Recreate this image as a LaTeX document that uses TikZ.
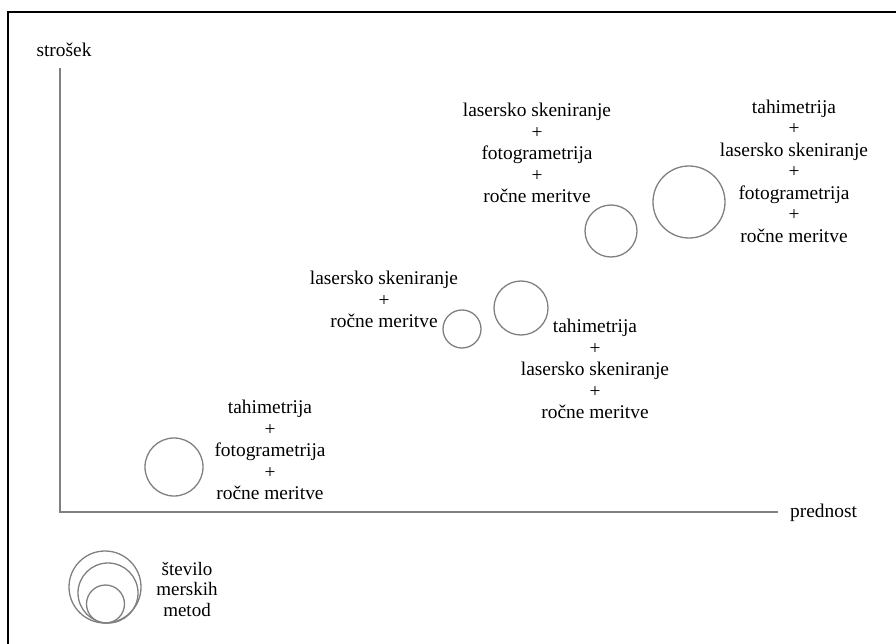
\documentclass[tikz,border=0pt]{standalone}
\usepackage{fontspec}
\setmainfont{Liberation Serif}
\begin{document}
\begin{tikzpicture}[x=1pt,y=-1pt,
  lbl/.style={inner sep=0pt,align=center,font=\fontsize{19.4}{21.5}\selectfont},
  bub/.style={circle,draw=black!50,line width=1.3pt,inner sep=0pt,minimum size=#1},
  axis/.style={draw=black!50,line width=1.8pt}]
\useasboundingbox (0,0) rectangle (896,644);
% frame
\draw[line width=2pt] (8,650) -- (8,12) -- (900,12);
% axes
\coordinate (ytop) at (60,68);
\coordinate (o) at (60,512);
\coordinate (xend) at (778,512);
\draw[axis] (ytop) -- (o) -- (xend);
\node[lbl,anchor=base] (ylab) at (64,57) {strošek};
\node[lbl,anchor=base west] (xlab) at (790,517) {prednost};
% bubbles
\node[bub=58pt] (c1) at (174,467) {};
\node[bub=38pt] (c2) at (462,329) {};
\node[bub=54pt] (c3) at (521,308) {};
\node[bub=52pt] (c4) at (611,231) {};
\node[bub=72pt] (c5) at (689,202) {};
% labels
\node[lbl,anchor=north] (t5) at (794,99.5) {tahimetrija\\+\\lasersko skeniranje\\+\\fotogrametrija\\+\\ročne meritve};
\node[lbl,anchor=north] (t4) at (537,103) {lasersko skeniranje\\+\\fotogrametrija\\+\\ročne meritve};
\node[lbl,anchor=north] (t2) at (384,271) {lasersko skeniranje\\+\\ročne meritve};
\node[lbl,anchor=north] (t3) at (595,319) {tahimetrija\\+\\lasersko skeniranje\\+\\ročne meritve};
\node[lbl,anchor=north] (t1) at (270,400) {tahimetrija\\+\\fotogrametrija\\+\\ročne meritve};
% legend
\node[bub=72pt] (l1) at (105,587) {};
\node[bub=60pt] (l2) at (108,593) {};
\node[bub=38pt] (l3) at (105.5,604) {};
\node[lbl,anchor=north,font=\fontsize{19}{20.4}\selectfont] (lt) at (187,562) {število\\merskih\\metod};
\end{tikzpicture}
\end{document}
